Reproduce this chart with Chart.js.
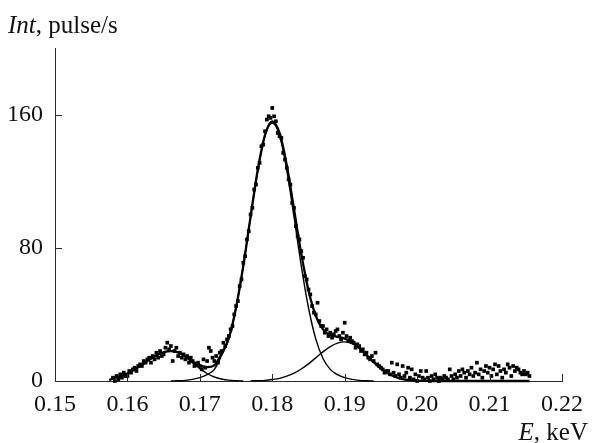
<!DOCTYPE html>
<html>
<head>
<meta charset="utf-8">
<script src="https://cdn.jsdelivr.net/npm/chart.js@4.4.0/dist/chart.umd.min.js"></script>
<style>
  html, body { margin: 0; padding: 0; background: #fff; }
  #wrap { width: 592px; height: 443px; }
</style>
</head>
<body>
<div id="wrap"><canvas id="spectrum" width="592" height="443"></canvas></div>
<script>
// Spectrum: measured intensity points + fitted peaks (three components and their sum)

const xTicks = [0.15, 0.16, 0.17, 0.18, 0.19, 0.20, 0.21, 0.22];
const yTicks = [0, 80, 160];

// measured points, keV
const pointE = [
  0.158, 0.15825, 0.1585, 0.15875, 0.159, 0.15925, 0.1595, 0.15975,
  0.160, 0.16025, 0.1605, 0.16075, 0.161, 0.16125, 0.1615, 0.16175,
  0.162, 0.16225, 0.1625, 0.16275, 0.163, 0.16325, 0.1635, 0.16375,
  0.164, 0.16425, 0.1645, 0.16475, 0.165, 0.16525, 0.1655, 0.16575,
  0.166, 0.16625, 0.1665, 0.16675, 0.167, 0.16725, 0.1675, 0.16775,
  0.168, 0.16825, 0.1685, 0.16875, 0.169, 0.16925, 0.1695, 0.16975,
  0.170, 0.17025, 0.1705, 0.17075, 0.171, 0.17125, 0.1715, 0.17175,
  0.172, 0.17225, 0.1725, 0.17275, 0.173, 0.17325, 0.1735, 0.17375,
  0.174, 0.17425, 0.1745, 0.17475, 0.175, 0.17525, 0.1755, 0.17575,
  0.176, 0.17625, 0.1765, 0.17675, 0.177, 0.17725, 0.1775, 0.17775,
  0.178, 0.17825, 0.1785, 0.17875, 0.179, 0.17925, 0.1795, 0.17975,
  0.180, 0.18025, 0.1805, 0.18075, 0.181, 0.18125, 0.1815, 0.18175,
  0.182, 0.18225, 0.1825, 0.18275, 0.183, 0.18325, 0.1835, 0.18375,
  0.184, 0.18425, 0.1845, 0.18475, 0.185, 0.18525, 0.1855, 0.18575,
  0.186, 0.18625, 0.1865, 0.18675, 0.187, 0.18725, 0.1875, 0.18775,
  0.188, 0.18825, 0.1885, 0.18875, 0.189, 0.18925, 0.1895, 0.18975,
  0.190, 0.19025, 0.1905, 0.19075, 0.191, 0.19125, 0.1915, 0.19175,
  0.192, 0.19225, 0.1925, 0.19275, 0.193, 0.19325, 0.1935, 0.19375,
  0.194, 0.19425, 0.1945, 0.19475, 0.195, 0.19525, 0.1955, 0.19575,
  0.196, 0.19625, 0.1965, 0.19675, 0.197, 0.19725, 0.1975, 0.19775,
  0.198, 0.19825, 0.1985, 0.19875, 0.199, 0.19925, 0.1995, 0.19975,
  0.200, 0.20025, 0.2005, 0.20075, 0.201, 0.20125, 0.2015, 0.20175,
  0.202, 0.20225, 0.2025, 0.20275, 0.203, 0.20325, 0.2035, 0.20375,
  0.204, 0.20425, 0.2045, 0.20475, 0.205, 0.20525, 0.2055, 0.20575,
  0.206, 0.20625, 0.2065, 0.20675, 0.207, 0.20725, 0.2075, 0.20775,
  0.208, 0.20825, 0.2085, 0.20875, 0.209, 0.20925, 0.2095, 0.20975,
  0.210, 0.21025, 0.2105, 0.21075, 0.211, 0.21125, 0.2115, 0.21175,
  0.212, 0.21225, 0.2125, 0.21275, 0.213, 0.21325, 0.2135, 0.21375,
  0.214, 0.21425, 0.2145, 0.21475, 0.215, 0.21525, 0.2155
];
// measured intensity, pulse/s
const pointInt = [
  2, 0, 3, 1,   4, 2, 5, 3,   3, 6, 5, 7,   8, 6, 9, 10,
  9, 12, 11, 13,   14, 11, 15, 13,   17, 14, 18, 15,   16, 20, 23, 19,
  21, 12, 18, 20,   15, 17, 14, 16,   13, 15, 11, 14,   12, 9, 10, 11,
  9, 7, 13, 8,   12, 20, 18, 14,   12, 15, 11, 17,   18, 23, 21, 25,
  27, 31, 33, 40,   45, 48, 57, 61,   71, 75, 85, 90,   100, 104, 115, 118,
  128, 131, 141, 142,   150, 157, 159, 158,   164, 159, 156, 149,   147, 146, 137, 133,
  128, 121, 118, 107,   104, 93, 87, 85,   78, 74, 63, 61,   55, 52, 45, 41,
  40, 47, 36, 33,   33, 29, 31, 27,   29, 26, 28, 30,   31, 27, 25, 29,
  35, 27, 24, 26,   24, 23, 20, 22,   21, 18, 19, 16,   17, 14, 13, 15,
  12, 17, 10, 9,   8, 7, 5, 6,   6, 4, 11, 5,   3, 10, 4, 2,
  9, 3, 5, 8,   2, 7, 1, 4,   0, 3, 6, 2,   1, 6, 2, 0,
  3, 1, 4, 2,   0, 2, 1, 3,   2, 1, 7, 3,   1, 4, 2, 6,
  3, 7, 5, 2,   6, 4, 8, 3,   5, 11, 4, 7,   2, 6, 9, 5,
  8, 3, 7, 10,   4, 9, 6, 2,   7, 5, 10, 8,   3, 9, 6, 8,
  7, 5, 4, 6,   4, 5, 3
];

// fitted curves sampled on this grid, keV
const curveE = [
  0.1575, 0.158, 0.159, 0.160, 0.161, 0.162, 0.163, 0.164, 0.165, 0.166,
  0.167, 0.168, 0.169, 0.170, 0.171, 0.172, 0.173, 0.174, 0.175, 0.176,
  0.177, 0.178, 0.179, 0.180, 0.181, 0.182, 0.183, 0.184, 0.185, 0.186,
  0.187, 0.188, 0.189, 0.190, 0.191, 0.192, 0.193, 0.194, 0.195, 0.196,
  0.197, 0.198, 0.199, 0.200, 0.201, 0.202, 0.203, 0.204, 0.205, 0.206,
  0.207, 0.208, 0.209, 0.210, 0.211, 0.212, 0.213, 0.214, 0.215, 0.2155
];
const fitSum = [
  0.5, 1.5, 2.7, 4.5, 6.9, 9.7, 12.7, 15.4, 17.3, 18.0,
  17.2, 14.8, 11.9, 9.4, 8.3, 9.4, 16.5, 25.8, 44.2, 69.2,
  98.6, 126.9, 147.8, 155.9, 149.0, 129.6, 103.2, 76.4, 54.3, 39.2,
  31.0, 27.6, 26.5, 25.5, 23.4, 20.0, 15.7, 11.3, 7.5, 4.5,
  2.5, 1.2, 0.6, 0.2, 0.1, 0, 0, 0, 0, 0,
  0, 0, 0, 0, 0, 0, 0, 0, 0, 0
];
const fitLow = [
  0.5, 1.5, 2.7, 4.5, 6.9, 9.7, 12.7, 15.4, 17.3, 18.0,
  17.0, 14.4, 10.9, 7.4, 4.5, 2.4, 1.2, 0.5, 0.2, 0,
  null, null, null, null, null, null, null, null, null, null,
  null, null, null, null, null, null, null, null, null, null,
  null, null, null, null, null, null, null, null, null, null,
  null, null, null, null, null, null, null, null, null, null
];
const fitMain = [
  null, null, null, null, null, null, null, null, null, 0,
  0.15, 0.4, 1.0, 2.0, 3.8, 7.0, 15.3, 25.3, 44.0, 69.2,
  98.5, 126.7, 147.4, 155, 147.4, 126.7, 98.5, 69.2, 44.0, 25.3,
  13.5, 7.0, 3.8, 2.0, 1.0, 0.4, 0.15, 0, null, null,
  null, null, null, null, null, null, null, null, null, null,
  null, null, null, null, null, null, null, null, null, null
];
const fitHigh = [
  null, null, null, null, null, null, null, null, null, null,
  null, null, null, null, null, null, null, null, null, null,
  0.1, 0.2, 0.4, 0.9, 1.6, 2.9, 4.7, 7.2, 10.3, 13.9,
  17.5, 20.6, 22.7, 23.5, 22.4, 19.6, 15.5, 11.3, 7.5, 4.5,
  2.5, 1.2, 0.6, 0.2, 0.1, 0, null, null, null, null,
  null, null, null, null, null, null, null, null, null, null
];

const AXIS = '#2a2a2a';
const SERIF = '"Liberation Serif", "Times New Roman", serif';

function pairs(xs, ys) {
  return xs.map((x, i) => ({ x: x, y: ys[i] }));
}

function curve(ys, width) {
  return {
    type: 'line',
    data: pairs(curveE, ys),
    borderColor: '#000',
    borderWidth: width,
    pointRadius: 0,
    cubicInterpolationMode: 'monotone',
    spanGaps: false,
    clip: false,
    order: 2
  };
}

// inner tick marks + axis captions
const axisExtras = {
  id: 'axisExtras',
  afterDraw(chart) {
    const ctx = chart.ctx;
    const xs = chart.scales.x, ys = chart.scales.y;
    const a = chart.chartArea;
    ctx.save();
    ctx.strokeStyle = AXIS;
    ctx.lineWidth = 1;
    ctx.beginPath();
    xTicks.forEach(v => {
      const px = Math.round(xs.getPixelForValue(v)) + 0.5;
      ctx.moveTo(px, a.bottom);
      ctx.lineTo(px, a.bottom - 7);
    });
    yTicks.forEach(v => {
      const py = Math.round(ys.getPixelForValue(v)) + 0.5;
      ctx.moveTo(a.left, py);
      ctx.lineTo(a.left + 7, py);
    });
    ctx.stroke();

    ctx.fillStyle = '#111';
    ctx.textBaseline = 'alphabetic';
    ctx.textAlign = 'left';
    ctx.font = 'italic 25px ' + SERIF;
    ctx.fillText('Int', 8, 33);
    let w = ctx.measureText('Int').width;
    ctx.font = '25px ' + SERIF;
    ctx.fillText(', pulse/s', 8 + w, 33);

    ctx.font = '25px ' + SERIF;
    const rest = ', keV';
    const rw = ctx.measureText(rest).width;
    ctx.fillText(rest, 588 - rw, 440);
    ctx.font = 'italic 25px ' + SERIF;
    ctx.textAlign = 'right';
    ctx.fillText('E', 588 - rw, 440);
    ctx.restore();
  }
};

new Chart(document.getElementById('spectrum').getContext('2d'), {
  type: 'scatter',
  data: {
    datasets: [
      {
        data: pairs(pointE, pointInt),
        pointStyle: 'rect',
        pointRadius: 2.6,
        pointBorderWidth: 0,
        backgroundColor: '#000',
        borderColor: '#000',
        clip: false,
        order: 1
      },
      curve(fitSum, 2.3),
      curve(fitLow, 1.4),
      curve(fitMain, 1.4),
      curve(fitHigh, 1.4)
    ]
  },
  options: {
    responsive: false,
    animation: false,
    devicePixelRatio: 1,
    layout: { autoPadding: false, padding: { left: 0, right: 25, top: 48, bottom: 0 } },
    plugins: { legend: { display: false }, tooltip: { enabled: false } },
    scales: {
      x: {
        type: 'linear',
        min: 0.15,
        max: 0.22,
        afterBuildTicks: s => { s.ticks = xTicks.map(v => ({ value: v })); },
        afterFit: s => { s.height = 62; },
        grid: { display: false, drawTicks: false },
        border: { display: true, color: AXIS, width: 1 },
        ticks: {
          autoSkip: false,
          maxRotation: 0,
          padding: 9,
          color: '#111',
          font: { family: SERIF, size: 24 },
          callback: v => Number(v).toFixed(2)
        }
      },
      y: {
        type: 'linear',
        min: 0,
        max: 200,
        afterBuildTicks: s => { s.ticks = yTicks.map(v => ({ value: v })); },
        afterFit: s => { s.width = 55; },
        grid: { display: false, drawTicks: false },
        border: { display: true, color: AXIS, width: 1 },
        ticks: {
          padding: 12,
          color: '#111',
          font: { family: SERIF, size: 24 },
          callback: v => String(v)
        }
      }
    }
  },
  plugins: [axisExtras]
});
</script>
</body>
</html>
